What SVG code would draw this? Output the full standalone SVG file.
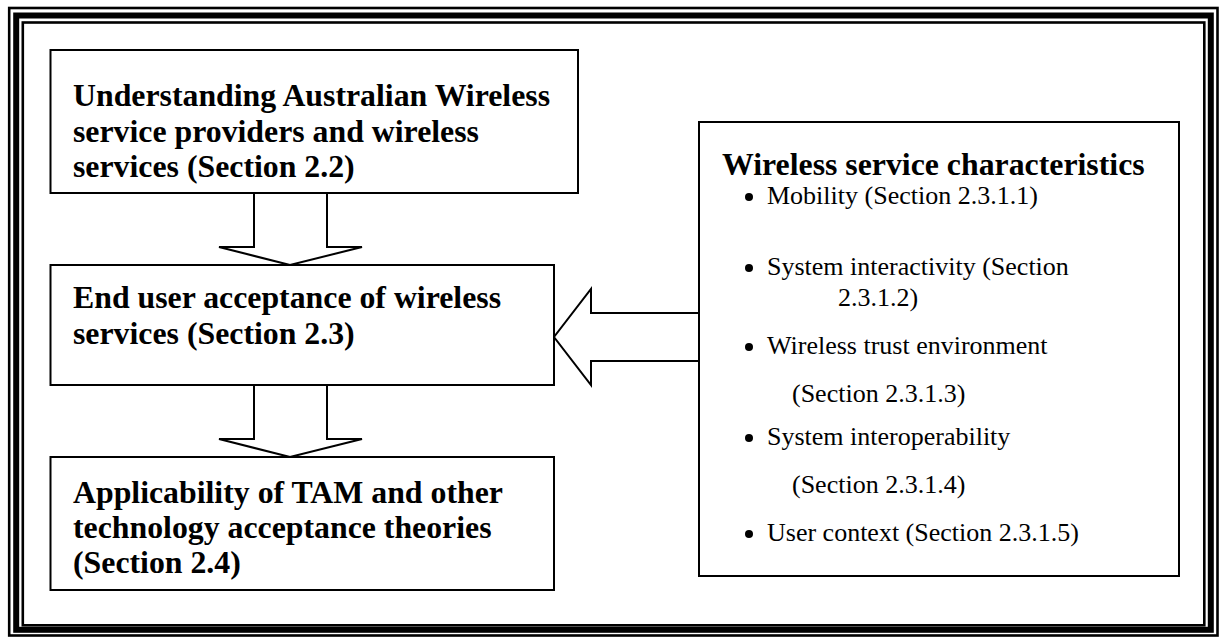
<svg xmlns="http://www.w3.org/2000/svg" width="1228" height="639" viewBox="0 0 1228 639">
<style>
.frame{fill:none;stroke:#000}
.box{fill:#fff;stroke:#000;stroke-width:2}
.arrow{fill:#fff;stroke:#000;stroke-width:2;stroke-linejoin:miter}
.h{font-family:"Liberation Serif","Times New Roman",serif;font-weight:bold;font-size:31.8px;fill:#000}
.t{font-family:"Liberation Serif","Times New Roman",serif;font-size:26px;fill:#000}
.bul{fill:#000}
</style>
<rect width="1228" height="639" fill="#fff"/>
<g id="frame">
<rect class="frame" x="9.2" y="8" width="1208.3" height="627.5" stroke-width="2.6"/>
<rect class="frame" x="16.2" y="15.5" width="1194.6" height="614.3" stroke-width="6"/>
<rect class="frame" x="22.8" y="22.5" width="1181.5" height="602.8" stroke-width="2.6"/>
</g>
<g id="connectors">
<polygon class="arrow" points="254,193 254,247 219,247 290,265 362,247 327,247 327,193"/>
<polygon class="arrow" points="254,385 254,439 219,439 290,457 362,439 327,439 327,385"/>
<polygon class="arrow" points="699,313 591,313 591,289 554,337 591,385 591,361 699,361"/>
</g>
<g id="node-providers">
<rect class="box" x="50.5" y="50" width="527.5" height="143"/>
<text class="h" x="73" y="106">Understanding Australian Wireless</text>
<text class="h" x="73" y="142">service providers and wireless</text>
<text class="h" x="73" y="177">services (Section 2.2)</text>
</g>
<g id="node-acceptance">
<rect class="box" x="50.5" y="265" width="503.5" height="120"/>
<text class="h" x="73" y="308">End user acceptance of wireless</text>
<text class="h" x="73" y="344">services (Section 2.3)</text>
</g>
<g id="node-tam">
<rect class="box" x="50.5" y="457" width="503.5" height="133"/>
<text class="h" x="73" y="503">Applicability of TAM and other</text>
<text class="h" x="73" y="538">technology acceptance theories</text>
<text class="h" x="73" y="573">(Section 2.4)</text>
</g>
<g id="node-characteristics">
<rect class="box" x="699" y="122" width="480" height="454"/>
<text class="h" x="722" y="175">Wireless service characteristics</text>
<circle class="bul" cx="749" cy="197" r="4"/>
<text class="t" x="767" y="204">Mobility (Section 2.3.1.1)</text>
<circle class="bul" cx="749" cy="268" r="4"/>
<text class="t" x="767" y="275">System interactivity (Section</text>
<text class="t" x="838" y="306">2.3.1.2)</text>
<circle class="bul" cx="749" cy="347" r="4"/>
<text class="t" x="767" y="354">Wireless trust environment</text>
<text class="t" x="792" y="402">(Section 2.3.1.3)</text>
<circle class="bul" cx="749" cy="438" r="4"/>
<text class="t" x="767" y="445">System interoperability</text>
<text class="t" x="792" y="493">(Section 2.3.1.4)</text>
<circle class="bul" cx="749" cy="534" r="4"/>
<text class="t" x="767" y="541">User context (Section 2.3.1.5)</text>
</g>
</svg>
